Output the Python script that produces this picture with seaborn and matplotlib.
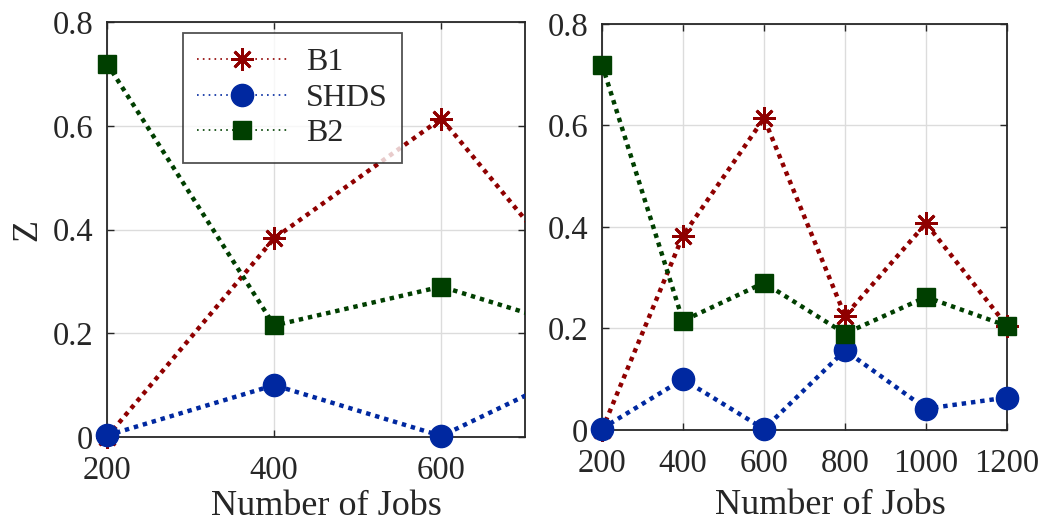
import numpy as np
import pandas as pd
import matplotlib
matplotlib.use("Agg")
import matplotlib.pyplot as plt
import seaborn as sns
from matplotlib.lines import Line2D

jobs = [200, 400, 600, 800, 1000, 1200]
b1 = [0.0, 0.383, 0.614, 0.225, 0.407, 0.205]
shds = [0.003, 0.100, 0.002, 0.157, 0.042, 0.064]
b2 = [0.720, 0.215, 0.290, 0.190, 0.262, 0.205]
series_names = ["B1", "SHDS", "B2"]
yticks = [0, 0.2, 0.4, 0.6, 0.8]
ytick_labels = ["0", "0.2", "0.4", "0.6", "0.8"]
left_xticks = [200, 400, 600]
right_xticks = [200, 400, 600, 800, 1000, 1200]

sns.set_theme(style="white")
plt.rcParams['font.family'] = ['Liberation Serif', 'DejaVu Serif']

colors = {"B1": "#8f0000", "SHDS": "#0028a0", "B2": "#003f00"}
markers = {"B1": (8, 2, 0), "SHDS": "o", "B2": "s"}
msizes = {"B1": 16, "SHDS": 16, "B2": 13}
values = {"B1": b1, "SHDS": shds, "B2": b2}

fig = plt.figure(figsize=(10.44, 5.22), dpi=100)
ax1 = fig.add_axes([0.1025, 0.1628, 0.4004, 0.795])
ax2 = fig.add_axes([0.5766, 0.1762, 0.388, 0.778])

TFS = 23.5
LFS = 26
for ax, xlim, xt in [(ax1, (200, 700), left_xticks), (ax2, (200, 1200), right_xticks)]:
    ax.set_xlim(*xlim)
    ax.set_ylim(0, 0.8)
    for name in series_names:
        df = pd.DataFrame({"x": jobs, "y": values[name]})
        sns.lineplot(data=df, x="x", y="y", ax=ax, color=colors[name],
                     linestyle=(0, (1, 1.1)), linewidth=3.2, dash_capstyle="butt",
                     zorder=3)
        sub = df[(df.x >= xlim[0]) & (df.x <= xlim[1])]
        mk = markers[name]
        if name == "B1":
            kw = dict(markeredgecolor=colors[name], markerfacecolor="none", markeredgewidth=2)
        else:
            kw = dict(markeredgecolor=colors[name], markerfacecolor=colors[name], markeredgewidth=1)
        sns.lineplot(data=sub, x="x", y="y", ax=ax, linestyle="none", marker=mk,
                     markersize=msizes[name], clip_on=False, zorder=4, **kw)
    ax.set_xticks(xt)
    ax.set_xticklabels([str(v) for v in xt])
    ax.set_yticks(yticks)
    ax.set_yticklabels(ytick_labels)
    ax.grid(True, color="#dcdcdc", linewidth=1)
    ax.set_axisbelow(True)
    ax.tick_params(direction="in", length=5, width=1, colors="#262626",
                   labelsize=TFS, top=True, right=True, left=True, bottom=True)
    ax.tick_params(axis="x", pad=13)
    ax.tick_params(axis="y", pad=10)
    for sp in ax.spines.values():
        sp.set_color("#262626")
        sp.set_linewidth(1.3)
        sp.set_visible(True)
    ax.set_xlabel("Number of Jobs", fontsize=LFS, color="#262626")
    ax.set_ylabel("")

# x-label positions (axes fraction), both labels sit on the same figure row
ax1.xaxis.set_label_coords(0.524, -0.128)
ax2.xaxis.set_label_coords(0.563, -0.146)
ax1.xaxis.label.set_va("top")
ax2.xaxis.label.set_va("top")

ax1.set_ylabel("Z", fontsize=LFS, color="#262626", labelpad=6)

handles = []
for name in series_names:
    if name == "B1":
        h = Line2D([], [], color=colors[name], linestyle=(0, (1, 2.5)), linewidth=1.2,
                   marker=markers[name], markersize=16, markeredgewidth=2,
                   markerfacecolor="none", markeredgecolor=colors[name])
    else:
        h = Line2D([], [], color=colors[name], linestyle=(0, (1, 2.5)), linewidth=1.2,
                   marker=markers[name], markersize=msizes[name],
                   markerfacecolor=colors[name], markeredgecolor=colors[name])
    handles.append(h)
leg = ax1.legend(handles, series_names, loc="upper left", bbox_to_anchor=(0.182, 0.973),
                 fontsize=23, frameon=True, fancybox=False, edgecolor="#262626",
                 handlelength=2.8, handletextpad=0.6, borderpad=0.45, labelspacing=0.2,
                 borderaxespad=0)
leg.get_frame().set_linewidth(1.3)
leg.set_zorder(10)

fig.savefig("out.png", dpi=100)
